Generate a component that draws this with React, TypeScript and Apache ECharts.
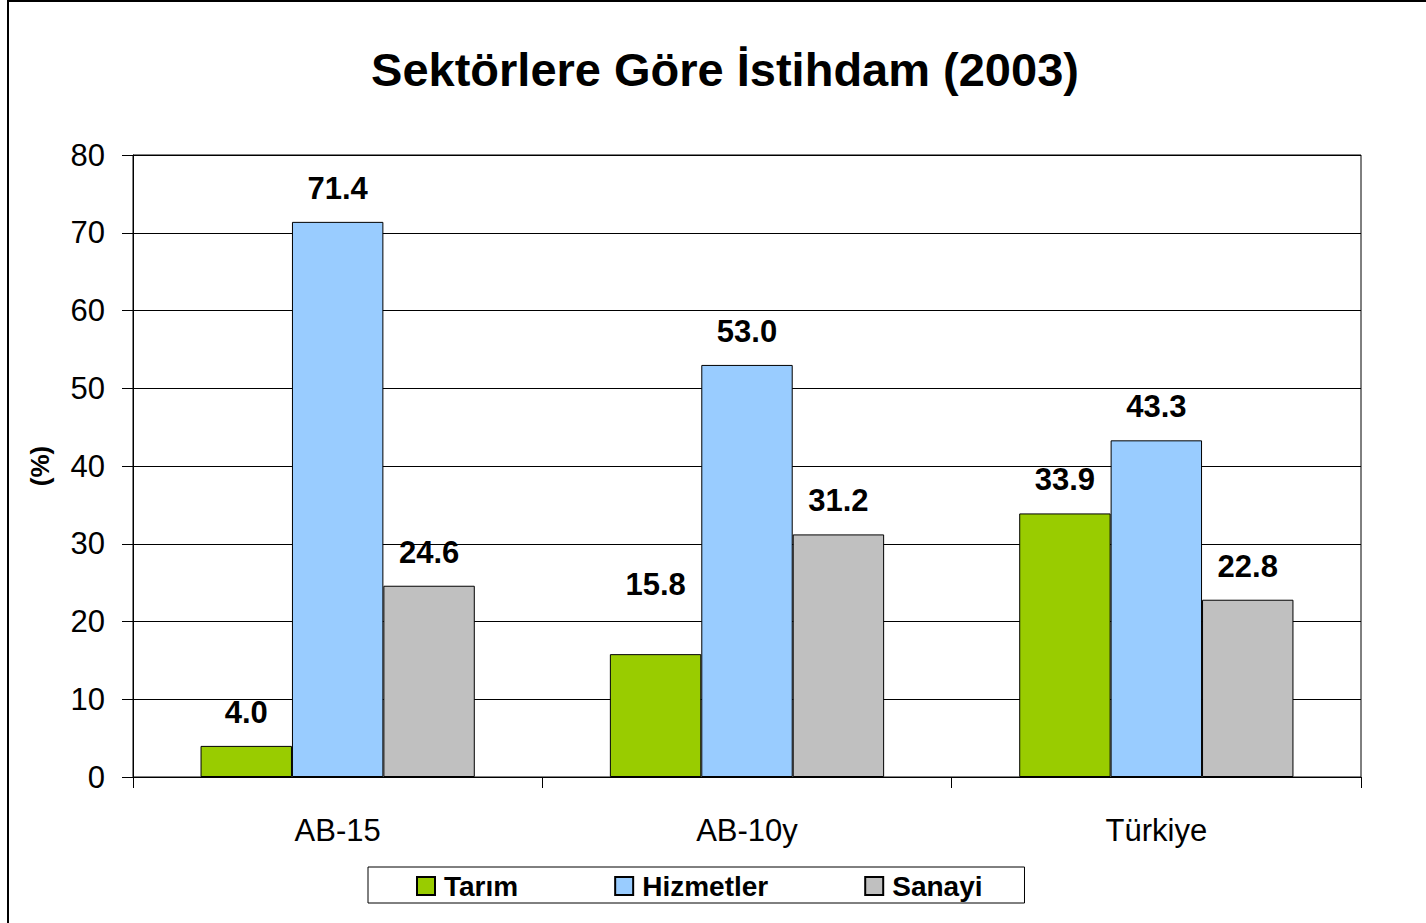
import React, { useEffect, useRef } from "react";
import * as echarts from "echarts";

const categories = ["AB-15", "AB-10y", "Türkiye"];
const seriesNames = ["Tarım", "Hizmetler", "Sanayi"];
const tarim = [4.0, 15.8, 33.9];
const hizmetler = [71.4, 53.0, 43.3];
const sanayi = [24.6, 31.2, 22.8];
const colors = ["#99CC00", "#99CCFF", "#C0C0C0"];
const yTicks = { min: 0, max: 80, interval: 10 };

const FONT = "'Liberation Sans', Arial, sans-serif";

export default function App() {
  const ref = useRef<HTMLDivElement>(null);
  useEffect(() => {
    if (!ref.current) return;
    const chart = echarts.init(ref.current, undefined, { renderer: "svg" });
    const values = [tarim, hizmetler, sanayi];
    chart.setOption({
      animation: false,
      backgroundColor: "#ffffff",
      textStyle: { fontFamily: FONT },
      title: {
        text: "Sektörlere Göre İstihdam (2003)",
        left: 720,
        top: 41,
        textAlign: "center",
        textStyle: { fontFamily: FONT, fontSize: 47, fontWeight: "bold", color: "#000" },
      },
      graphic: [
        {
          type: "rect",
          shape: { x: 8, y: 1, width: 1600, height: 1200 },
          style: { fill: "none", stroke: "#000", lineWidth: 2 },
          silent: true,
          z: 100,
        },
      ],
      legend: {
        left: 368,
        top: 867,
        orient: "horizontal",
        borderColor: "#000",
        borderWidth: 1,
        padding: [5, 42, 3, 48],
        itemGap: 96,
        itemWidth: 18,
        itemHeight: 18,
        icon: "rect",
        textStyle: {
          fontFamily: FONT,
          fontSize: 28,
          fontWeight: "bold",
          color: "#000",
          lineHeight: 28,
          padding: [0, 0, 0, 4],
        },
        data: seriesNames,
      },
      grid: {
        left: 133,
        right: 65,
        top: 155,
        bottom: 146,
        show: true,
        borderColor: "#000",
        borderWidth: 1,
        containLabel: false,
      },
      xAxis: {
        type: "category",
        data: categories,
        axisLine: { show: true, lineStyle: { color: "#000", width: 1 } },
        axisTick: { show: true, length: 11, alignWithLabel: false, lineStyle: { color: "#000" } },
        axisLabel: { color: "#000", fontSize: 31, fontFamily: FONT, margin: 38 },
        splitLine: { show: false },
      },
      yAxis: {
        type: "value",
        min: yTicks.min,
        max: yTicks.max,
        interval: yTicks.interval,
        name: "(%)",
        nameLocation: "middle",
        nameRotate: 90,
        nameGap: 80,
        nameTextStyle: { fontFamily: FONT, fontSize: 26, fontWeight: "bold", color: "#000" },
        axisLine: { show: true, lineStyle: { color: "#000", width: 1 } },
        axisTick: { show: true, length: 11, inside: false, lineStyle: { color: "#000" } },
        axisLabel: { color: "#000", fontSize: 31, fontFamily: FONT, margin: 28 },
        splitLine: { show: true, lineStyle: { color: "#000", width: 1 } },
      },
      series: seriesNames.map((name, i) => ({
        name,
        type: "bar",
        data: values[i].map((v, j) =>
          i === 0 && j === 1 ? { value: v, label: { distance: 54 } } : v
        ),
        barGap: "0%",
        barCategoryGap: "33%",
        itemStyle: { color: colors[i], borderColor: "#000", borderWidth: 1 },
        label: {
          show: true,
          position: "top",
          distance: 18,
          formatter: (p: any) => Number(p.value).toFixed(1),
          fontFamily: FONT,
          fontSize: 31,
          fontWeight: "bold",
          color: "#000",
        },
      })),
    });
    return () => chart.dispose();
  }, []);
  return (
    <div
      ref={ref}
      style={{ position: "fixed", left: 0, top: 0, width: 1426, height: 923 }}
    />
  );
}
